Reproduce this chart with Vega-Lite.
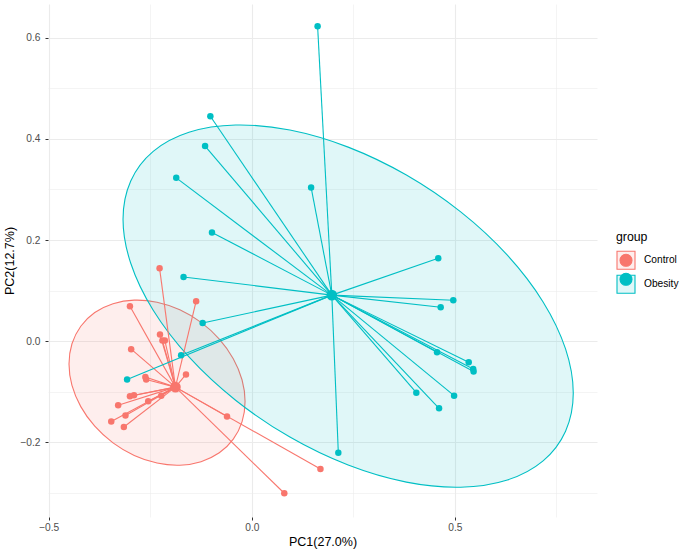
{
  "$schema": "https://vega.github.io/schema/vega-lite/v6.json",
  "width": 549,
  "height": 513,
  "autosize": {"type": "none"},
  "padding": {"left": 48, "top": 4, "right": 83, "bottom": 33},
  "background": "white",
  "config": {"view": {"stroke": null}, "font": "Liberation Sans"},
  "datasets": {
    "pts": [
      {"group": "Control", "PC1": -0.227, "PC2": 0.144, "cx": -0.188, "cy": -0.091},
      {"group": "Control", "PC1": -0.137, "PC2": 0.079, "cx": -0.188, "cy": -0.091},
      {"group": "Control", "PC1": -0.300, "PC2": 0.069, "cx": -0.188, "cy": -0.091},
      {"group": "Control", "PC1": -0.226, "PC2": 0.013, "cx": -0.188, "cy": -0.091},
      {"group": "Control", "PC1": -0.220, "PC2": 0.001, "cx": -0.188, "cy": -0.091},
      {"group": "Control", "PC1": -0.214, "PC2": 0.001, "cx": -0.188, "cy": -0.091},
      {"group": "Control", "PC1": -0.297, "PC2": -0.016, "cx": -0.188, "cy": -0.091},
      {"group": "Control", "PC1": -0.162, "PC2": -0.066, "cx": -0.188, "cy": -0.091},
      {"group": "Control", "PC1": -0.262, "PC2": -0.071, "cx": -0.188, "cy": -0.091},
      {"group": "Control", "PC1": -0.260, "PC2": -0.076, "cx": -0.188, "cy": -0.091},
      {"group": "Control", "PC1": -0.223, "PC2": -0.108, "cx": -0.188, "cy": -0.091},
      {"group": "Control", "PC1": -0.300, "PC2": -0.109, "cx": -0.188, "cy": -0.091},
      {"group": "Control", "PC1": -0.290, "PC2": -0.107, "cx": -0.188, "cy": -0.091},
      {"group": "Control", "PC1": -0.255, "PC2": -0.119, "cx": -0.188, "cy": -0.091},
      {"group": "Control", "PC1": -0.329, "PC2": -0.127, "cx": -0.188, "cy": -0.091},
      {"group": "Control", "PC1": -0.311, "PC2": -0.147, "cx": -0.188, "cy": -0.091},
      {"group": "Control", "PC1": -0.346, "PC2": -0.159, "cx": -0.188, "cy": -0.091},
      {"group": "Control", "PC1": -0.315, "PC2": -0.170, "cx": -0.188, "cy": -0.091},
      {"group": "Control", "PC1": -0.061, "PC2": -0.149, "cx": -0.188, "cy": -0.091},
      {"group": "Control", "PC1": 0.169, "PC2": -0.253, "cx": -0.188, "cy": -0.091},
      {"group": "Control", "PC1": 0.080, "PC2": -0.301, "cx": -0.188, "cy": -0.091},
      {"group": "Obesity", "PC1": 0.162, "PC2": 0.623, "cx": 0.197, "cy": 0.091},
      {"group": "Obesity", "PC1": -0.102, "PC2": 0.445, "cx": 0.197, "cy": 0.091},
      {"group": "Obesity", "PC1": -0.115, "PC2": 0.386, "cx": 0.197, "cy": 0.091},
      {"group": "Obesity", "PC1": -0.186, "PC2": 0.323, "cx": 0.197, "cy": 0.091},
      {"group": "Obesity", "PC1": 0.146, "PC2": 0.304, "cx": 0.197, "cy": 0.091},
      {"group": "Obesity", "PC1": -0.098, "PC2": 0.215, "cx": 0.197, "cy": 0.091},
      {"group": "Obesity", "PC1": -0.168, "PC2": 0.127, "cx": 0.197, "cy": 0.091},
      {"group": "Obesity", "PC1": 0.459, "PC2": 0.164, "cx": 0.197, "cy": 0.091},
      {"group": "Obesity", "PC1": 0.496, "PC2": 0.081, "cx": 0.197, "cy": 0.091},
      {"group": "Obesity", "PC1": 0.465, "PC2": 0.067, "cx": 0.197, "cy": 0.091},
      {"group": "Obesity", "PC1": 0.456, "PC2": -0.022, "cx": 0.197, "cy": 0.091},
      {"group": "Obesity", "PC1": 0.534, "PC2": -0.042, "cx": 0.197, "cy": 0.091},
      {"group": "Obesity", "PC1": 0.545, "PC2": -0.055, "cx": 0.197, "cy": 0.091},
      {"group": "Obesity", "PC1": 0.546, "PC2": -0.060, "cx": 0.197, "cy": 0.091},
      {"group": "Obesity", "PC1": 0.405, "PC2": -0.102, "cx": 0.197, "cy": 0.091},
      {"group": "Obesity", "PC1": 0.498, "PC2": -0.108, "cx": 0.197, "cy": 0.091},
      {"group": "Obesity", "PC1": 0.461, "PC2": -0.133, "cx": 0.197, "cy": 0.091},
      {"group": "Obesity", "PC1": 0.213, "PC2": -0.221, "cx": 0.197, "cy": 0.091},
      {"group": "Obesity", "PC1": -0.121, "PC2": 0.036, "cx": 0.197, "cy": 0.091},
      {"group": "Obesity", "PC1": -0.174, "PC2": -0.028, "cx": 0.197, "cy": 0.091},
      {"group": "Obesity", "PC1": -0.307, "PC2": -0.076, "cx": 0.197, "cy": 0.091}
    ],
    "cent": [
      {"group": "Control", "PC1": -0.188, "PC2": -0.091},
      {"group": "Obesity", "PC1": 0.197, "PC2": 0.091}
    ],
    "ell": [
      {"grp": "Control", "i": 0, "PC1": -0.0166, "PC2": -0.1193},
      {"grp": "Control", "i": 1, "PC1": -0.0239, "PC2": -0.1592},
      {"grp": "Control", "i": 2, "PC1": -0.0456, "PC2": -0.1939},
      {"grp": "Control", "i": 3, "PC1": -0.0800, "PC2": -0.2210},
      {"grp": "Control", "i": 4, "PC1": -0.1249, "PC2": -0.2385},
      {"grp": "Control", "i": 5, "PC1": -0.1772, "PC2": -0.2455},
      {"grp": "Control", "i": 6, "PC1": -0.2333, "PC2": -0.2413},
      {"grp": "Control", "i": 7, "PC1": -0.2894, "PC2": -0.2263},
      {"grp": "Control", "i": 8, "PC1": -0.3417, "PC2": -0.2014},
      {"grp": "Control", "i": 9, "PC1": -0.3866, "PC2": -0.1684},
      {"grp": "Control", "i": 10, "PC1": -0.4210, "PC2": -0.1296},
      {"grp": "Control", "i": 11, "PC1": -0.4427, "PC2": -0.0875},
      {"grp": "Control", "i": 12, "PC1": -0.4500, "PC2": -0.0451},
      {"grp": "Control", "i": 13, "PC1": -0.4427, "PC2": -0.0052},
      {"grp": "Control", "i": 14, "PC1": -0.4210, "PC2": 0.0295},
      {"grp": "Control", "i": 15, "PC1": -0.3866, "PC2": 0.0566},
      {"grp": "Control", "i": 16, "PC1": -0.3417, "PC2": 0.0741},
      {"grp": "Control", "i": 17, "PC1": -0.2894, "PC2": 0.0811},
      {"grp": "Control", "i": 18, "PC1": -0.2333, "PC2": 0.0769},
      {"grp": "Control", "i": 19, "PC1": -0.1772, "PC2": 0.0619},
      {"grp": "Control", "i": 20, "PC1": -0.1249, "PC2": 0.0370},
      {"grp": "Control", "i": 21, "PC1": -0.0800, "PC2": 0.0040},
      {"grp": "Control", "i": 22, "PC1": -0.0456, "PC2": -0.0348},
      {"grp": "Control", "i": 23, "PC1": -0.0239, "PC2": -0.0769},
      {"grp": "Obesity", "i": 0, "PC1": 0.7914, "PC2": -0.1027},
      {"grp": "Obesity", "i": 1, "PC1": 0.7724, "PC2": -0.1783},
      {"grp": "Obesity", "i": 2, "PC1": 0.7171, "PC2": -0.2369},
      {"grp": "Obesity", "i": 3, "PC1": 0.6291, "PC2": -0.2747},
      {"grp": "Obesity", "i": 4, "PC1": 0.5143, "PC2": -0.2890},
      {"grp": "Obesity", "i": 5, "PC1": 0.3806, "PC2": -0.2790},
      {"grp": "Obesity", "i": 6, "PC1": 0.2372, "PC2": -0.2452},
      {"grp": "Obesity", "i": 7, "PC1": 0.0938, "PC2": -0.1899},
      {"grp": "Obesity", "i": 8, "PC1": -0.0399, "PC2": -0.1170},
      {"grp": "Obesity", "i": 9, "PC1": -0.1547, "PC2": -0.0314},
      {"grp": "Obesity", "i": 10, "PC1": -0.2427, "PC2": 0.0611},
      {"grp": "Obesity", "i": 11, "PC1": -0.2980, "PC2": 0.1541},
      {"grp": "Obesity", "i": 12, "PC1": -0.3170, "PC2": 0.2413},
      {"grp": "Obesity", "i": 13, "PC1": -0.2980, "PC2": 0.3169},
      {"grp": "Obesity", "i": 14, "PC1": -0.2427, "PC2": 0.3755},
      {"grp": "Obesity", "i": 15, "PC1": -0.1547, "PC2": 0.4133},
      {"grp": "Obesity", "i": 16, "PC1": -0.0399, "PC2": 0.4276},
      {"grp": "Obesity", "i": 17, "PC1": 0.0938, "PC2": 0.4176},
      {"grp": "Obesity", "i": 18, "PC1": 0.2372, "PC2": 0.3838},
      {"grp": "Obesity", "i": 19, "PC1": 0.3806, "PC2": 0.3285},
      {"grp": "Obesity", "i": 20, "PC1": 0.5143, "PC2": 0.2556},
      {"grp": "Obesity", "i": 21, "PC1": 0.6291, "PC2": 0.1700},
      {"grp": "Obesity", "i": 22, "PC1": 0.7171, "PC2": 0.0775},
      {"grp": "Obesity", "i": 23, "PC1": 0.7724, "PC2": -0.0155}
    ]
  },
  "layer": [
    {
      "data": {"name": "ell"},
      "mark": {"type": "line", "interpolate": "cardinal-closed", "fillOpacity": 0.12, "strokeWidth": 1.1},
      "encoding": {
        "x": {
          "field": "PC1", "type": "quantitative",
          "scale": {"domain": [-0.5017, 0.8498], "nice": false, "zero": false},
          "axis": {
            "title": "PC1(27.0%)",
            "values": [-0.5, -0.25, 0, 0.25, 0.5, 0.75],
            "grid": true, "domain": false,
            "gridColor": "#EBEBEB",
            "gridWidth": {"condition": {"test": "round(datum.value*4)%2!==0", "value": 0.55}, "value": 1.1},
            "tickColor": "#333333",
            "tickOpacity": {"condition": {"test": "round(datum.value*4)%2!==0", "value": 0}, "value": 1},
            "tickSize": 3, "tickWidth": 1,
            "labelExpr": "round(datum.value*4)%2!==0 ? '' : replace(format(datum.value,'.1f'),'-','−')",
            "labelColor": "#4D4D4D", "labelFontSize": 10.2, "labelPadding": 2,
            "labelFlush": false, "labelOverlap": false,
            "titleFontSize": 12.5, "titleFontWeight": "normal", "titleColor": "#000000", "titlePadding": 3
          }
        },
        "y": {
          "field": "PC2", "type": "quantitative",
          "scale": {"domain": [-0.348, 0.667], "nice": false, "zero": false},
          "axis": {
            "title": "PC2(12.7%)",
            "values": [-0.3, -0.2, -0.1, 0, 0.1, 0.2, 0.3, 0.4, 0.5, 0.6],
            "grid": true, "domain": false,
            "gridColor": "#EBEBEB",
            "gridWidth": {"condition": {"test": "round(datum.value*10)%2!==0", "value": 0.55}, "value": 1.1},
            "tickColor": "#333333",
            "tickOpacity": {"condition": {"test": "round(datum.value*10)%2!==0", "value": 0}, "value": 1},
            "tickSize": 3, "tickWidth": 1,
            "labelExpr": "round(datum.value*10)%2!==0 ? '' : replace(format(datum.value,'.1f'),'-','−')",
            "labelColor": "#4D4D4D", "labelFontSize": 10.2, "labelPadding": 5,
            "labelFlush": false, "labelOverlap": false,
            "titleFontSize": 12.5, "titleFontWeight": "normal", "titleColor": "#000000", "titlePadding": 3
          }
        },
        "order": {"field": "i", "type": "quantitative"},
        "fill": {
          "field": "grp", "type": "nominal",
          "scale": {"range": ["#F8766D", "#00BFC4"]},
          "legend": {
            "title": "group", "orient": "none", "legendX": 568, "legendY": 227,
            "symbolType": "square", "symbolSize": 324, "symbolStrokeWidth": 1.1,
            "labelFontSize": 10.2, "labelColor": "#000000", "labelOffset": 8,
            "titleFontSize": 12.3, "titleFontWeight": "normal", "titleColor": "#000000", "titlePadding": 7,
            "rowPadding": 0, "padding": 0,
            "encode": {"symbols": {"update": {"fillOpacity": {"value": 0.12}, "strokeOpacity": {"value": 1}}}}
          }
        },
        "stroke": {
          "field": "grp", "type": "nominal",
          "scale": {"range": ["#F8766D", "#00BFC4"]},
          "legend": {
            "title": "group", "orient": "none", "legendX": 568, "legendY": 227,
            "symbolType": "square", "symbolSize": 324, "symbolStrokeWidth": 1.1,
            "labelFontSize": 10.2, "labelColor": "#000000", "labelOffset": 8,
            "titleFontSize": 12.3, "titleFontWeight": "normal", "titleColor": "#000000", "titlePadding": 7,
            "rowPadding": 0, "padding": 0,
            "encode": {"symbols": {"update": {"fillOpacity": {"value": 0.12}, "strokeOpacity": {"value": 1}}}}
          }
        }
      }
    },
    {
      "data": {"name": "pts"},
      "mark": {"type": "rule", "strokeWidth": 1.1},
      "encoding": {
        "x": {"field": "PC1", "type": "quantitative"},
        "y": {"field": "PC2", "type": "quantitative"},
        "x2": {"field": "cx"},
        "y2": {"field": "cy"},
        "color": {"field": "group", "type": "nominal", "scale": {"range": ["#F8766D", "#00BFC4"]}}
      }
    },
    {
      "data": {"name": "pts"},
      "mark": {"type": "circle", "size": 42, "opacity": 1},
      "encoding": {
        "x": {"field": "PC1", "type": "quantitative"},
        "y": {"field": "PC2", "type": "quantitative"},
        "color": {
          "field": "group", "type": "nominal",
          "scale": {"range": ["#F8766D", "#00BFC4"]},
          "legend": {
            "title": " ", "titleOpacity": 0, "labelExpr": "''",
            "orient": "none", "legendX": 568, "legendY": 227, "zindex": 1,
            "symbolType": "M-0.667,0A0.667,0.667,0,1,1,0.667,0A0.667,0.667,0,1,1,-0.667,0Z",
            "symbolSize": 324, "symbolStrokeWidth": 1.1, "symbolOpacity": 1,
            "labelFontSize": 10.2, "labelColor": "#000000", "labelOffset": 8,
            "titleFontSize": 12.3, "titleFontWeight": "normal", "titleColor": "#000000", "titlePadding": 7,
            "rowPadding": 0, "padding": 0
          }
        }
      }
    },
    {
      "data": {"name": "cent"},
      "mark": {"type": "circle", "size": 115, "opacity": 1},
      "encoding": {
        "x": {"field": "PC1", "type": "quantitative"},
        "y": {"field": "PC2", "type": "quantitative"},
        "color": {"field": "group", "type": "nominal"}
      }
    }
  ]
}
